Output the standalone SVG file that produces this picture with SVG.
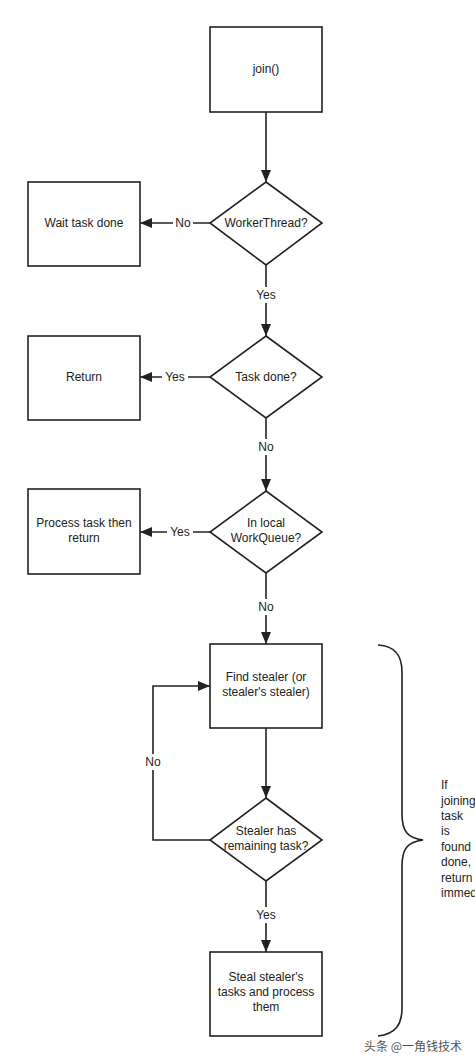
<svg xmlns="http://www.w3.org/2000/svg" width="475" height="1064" viewBox="0 0 475 1064">
<defs>
<marker id="arr" viewBox="0 0 12 10" refX="12" refY="5" markerWidth="12" markerHeight="10" markerUnits="userSpaceOnUse" orient="auto">
<path d="M0,0 L12,5 L0,10 z" fill="#222"/>
</marker>
<style>
.n{fill:#fff;stroke:#222;stroke-width:1.6}
.t{font-family:"Liberation Sans",Arial,sans-serif;font-size:12px;fill:#222;text-anchor:middle}
.c{fill:none;stroke:#222;stroke-width:1.6}
.lb{font-family:"Liberation Sans",Arial,sans-serif;font-size:12px;fill:#222;text-anchor:middle}
.bg{fill:#fff}
.note{font-family:"Liberation Sans",Arial,sans-serif;font-size:12px;fill:#222}
</style>
</defs>
<rect width="475" height="1064" fill="#fff"/>
<g id="connectors">
<path class="c" d="M266,112 V182" marker-end="url(#arr)"/>
<path class="c" d="M210,223 H140" marker-end="url(#arr)"/>
<path class="c" d="M266,265 V336" marker-end="url(#arr)"/>
<path class="c" d="M210,377 H140" marker-end="url(#arr)"/>
<path class="c" d="M266,418 V491" marker-end="url(#arr)"/>
<path class="c" d="M210,532 H140" marker-end="url(#arr)"/>
<path class="c" d="M266,573 V644" marker-end="url(#arr)"/>
<path class="c" d="M266,728 V798" marker-end="url(#arr)"/>
<path class="c" d="M210,840 H153 V686 H210" marker-end="url(#arr)"/>
<path class="c" d="M266,881 V952" marker-end="url(#arr)"/>
<rect class="bg" x="173" y="215" width="20" height="16"/>
<text class="lb" x="183" y="227">No</text>
<rect class="bg" x="253" y="287" width="26" height="16"/>
<text class="lb" x="266" y="299">Yes</text>
<rect class="bg" x="162" y="369" width="26" height="16"/>
<text class="lb" x="175" y="381">Yes</text>
<rect class="bg" x="256" y="439" width="20" height="16"/>
<text class="lb" x="266" y="451">No</text>
<rect class="bg" x="167" y="524" width="26" height="16"/>
<text class="lb" x="180" y="536">Yes</text>
<rect class="bg" x="256" y="599" width="20" height="16"/>
<text class="lb" x="266" y="611">No</text>
<rect class="bg" x="143" y="754" width="20" height="16"/>
<text class="lb" x="153" y="766">No</text>
<rect class="bg" x="253" y="907" width="26" height="16"/>
<text class="lb" x="266" y="919">Yes</text>
</g>
<g id="join">
<rect class="n" x="210" y="27" width="112" height="85"/>
<text class="t" x="266" y="73">join()</text>
</g>
<g id="workerThread">
<path class="n" d="M266,182 L322,223 L266,265 L210,223 Z"/>
<text class="t" x="266" y="227">WorkerThread?</text>
</g>
<g id="waitTaskDone">
<rect class="n" x="28" y="182" width="112" height="84"/>
<text class="t" x="84" y="227">Wait task done</text>
</g>
<g id="taskDone">
<path class="n" d="M266,336 L322,377 L266,418 L210,377 Z"/>
<text class="t" x="266" y="381">Task done?</text>
</g>
<g id="return">
<rect class="n" x="28" y="336" width="112" height="84"/>
<text class="t" x="84" y="381">Return</text>
</g>
<g id="inLocalWorkQueue">
<path class="n" d="M266,491 L322,532 L266,573 L210,532 Z"/>
<text class="t" x="266" y="527">In local</text>
<text class="t" x="266" y="542">WorkQueue?</text>
</g>
<g id="processTask">
<rect class="n" x="28" y="489" width="112" height="85"/>
<text class="t" x="84" y="527">Process task then</text>
<text class="t" x="84" y="542">return</text>
</g>
<g id="findStealer">
<rect class="n" x="210" y="644" width="112" height="84"/>
<text class="t" x="266" y="681">Find stealer (or</text>
<text class="t" x="266" y="696">stealer's stealer)</text>
</g>
<g id="stealerHasRemaining">
<path class="n" d="M266,798 L322,840 L266,881 L210,840 Z"/>
<text class="t" x="266" y="835">Stealer has</text>
<text class="t" x="266" y="850">remaining task?</text>
</g>
<g id="stealTasks">
<rect class="n" x="210" y="952" width="112" height="84"/>
<text class="t" x="266" y="981">Steal stealer's</text>
<text class="t" x="266" y="996">tasks and process</text>
<text class="t" x="266" y="1011">them</text>
</g>
<g id="brace">
<path class="c" d="M378,645 C396,646 402,656 402,672 V814 C402,832 408,838 423,840 C408,842 402,848 402,866 V1008 C402,1024 396,1034 378,1036"/>
</g>
<g id="note">
<text class="note" x="441" y="789">If</text>
<text class="note" x="441" y="805">joining</text>
<text class="note" x="441" y="820">task</text>
<text class="note" x="441" y="835">is</text>
<text class="note" x="441" y="851">found</text>
<text class="note" x="441" y="866">done,</text>
<text class="note" x="441" y="882">return</text>
<text class="note" x="441" y="897">immediately</text>
</g>
<g id="watermark">
<text x="364" y="1051" style="font-family:'Noto Sans CJK SC',sans-serif;font-size:12px;fill:#555">头条 @一角钱技术</text>
</g>
</svg>
